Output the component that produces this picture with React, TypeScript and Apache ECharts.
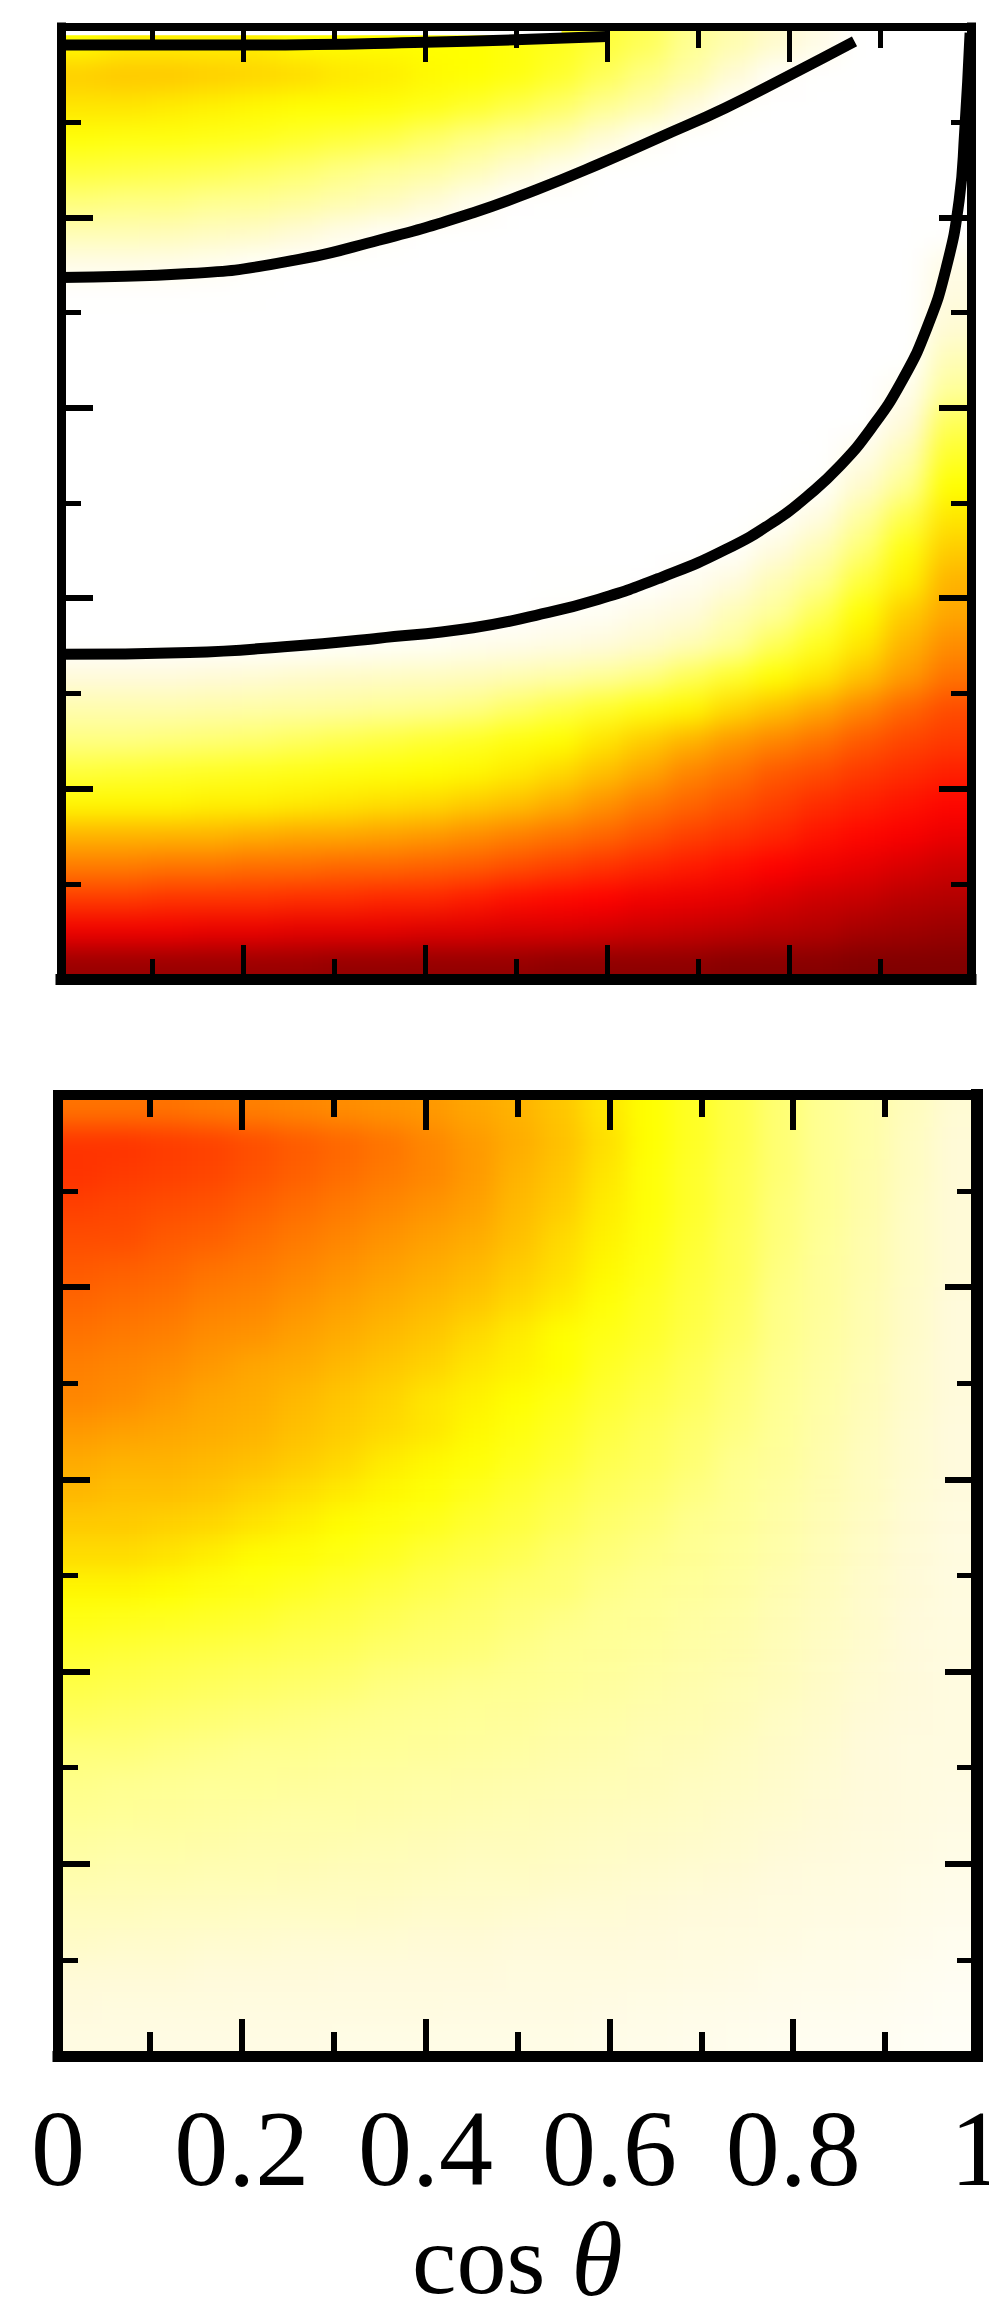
import React, { useEffect, useRef } from "react";
import * as echarts from "echarts";

const xTickLabels = ["0", "0.2", "0.4", "0.6", "0.8", "1"];

const topMaskAboveLine = [[0, 9.95], [0.2, 9.95], [0.4, 9.95], [0.55, 9.96]];
const contourShort = [[0, 9.81], [0.2, 9.81], [0.4, 9.84], [0.6, 9.9]];
const contourUpper = [
  [0, 7.37], [0.141, 7.41], [0.245, 7.53], [0.349, 7.76], [0.453, 8.05], [0.522, 8.29],
  [0.591, 8.56], [0.66, 8.85], [0.73, 9.15], [0.8, 9.49], [0.872, 9.85],
];
const contourLower = [
  [0, 3.41], [0.141, 3.43], [0.245, 3.49], [0.349, 3.58], [0.453, 3.69], [0.522, 3.82],
  [0.591, 3.99], [0.66, 4.22], [0.73, 4.51], [0.786, 4.82], [0.82, 5.07], [0.855, 5.38],
  [0.89, 5.78], [0.924, 6.28], [0.952, 6.85], [0.973, 7.48], [0.987, 8.18], [0.993, 8.89], [0.999, 9.94],
];

// Colour levels, rows from top to bottom, columns from cos θ = 0 to 1.
const topPanel = [
  [3,3.1,3.1,3.1,3.1,3,3,3,3,3,2.9,2.8,2.6,2.4,2,1.6,1.2,0.7,0,0,0],
  [3.4,3.45,3.45,3.4,3.35,3.3,3.2,3.15,3.05,3,2.9,2.7,2.4,2.1,1.7,1.1,0.2,0,0,0,0],
  [3.2,3.2,3.15,3.1,3.05,3,3,2.95,2.85,2.7,2.5,2.3,2,1.6,1,0.1,0,0,0,0,0],
  [2.95,2.9,2.9,2.85,2.8,2.7,2.6,2.5,2.3,2.1,1.9,1.6,1.1,0.3,0,0,0,0,0,0,0],
  [2.6,2.55,2.5,2.45,2.35,2.25,2.1,1.95,1.8,1.5,1.1,0.5,0,0,0,0,0,0,0,0,0],
  [2.15,2.1,2.1,2,1.95,1.8,1.6,1.4,1.1,0.5,0,0,0,0,0,0,0,0,0,0,0],
  [1.5,1.5,1.45,1.35,1.25,1.05,0.6,0.2,0,0,0,0,0,0,0,0,0,0,0,0,0],
  [0.6,0.6,0.55,0.4,0.1,0,0,0,0,0,0,0,0,0,0,0,0,0,0,0,0.7],
  [0,0,0,0,0,0,0,0,0,0,0,0,0,0,0,0,0,0,0,0,0.9],
  [0,0,0,0,0,0,0,0,0,0,0,0,0,0,0,0,0,0,0,0,1.1],
  [0,0,0,0,0,0,0,0,0,0,0,0,0,0,0,0,0,0,0,0,1.5],
  [0,0,0,0,0,0,0,0,0,0,0,0,0,0,0,0,0,0,0,0.5,1.9],
  [0,0,0,0,0,0,0,0,0,0,0,0,0,0,0,0,0,0,0,1,2.4],
  [0,0,0,0,0,0,0,0,0,0,0,0,0,0,0,0,0,0,0.6,1.5,2.7],
  [0,0,0,0,0,0,0,0,0,0,0,0,0,0,0,0,0,0.1,1.2,2,3],
  [0,0,0,0,0,0,0,0,0,0,0,0,0,0,0,0,0.1,0.9,1.8,2.5,3.2],
  [0,0,0,0,0,0,0,0,0,0,0,0,0,0,0,0.1,0.9,1.5,2.2,2.9,3.4],
  [0,0,0,0,0,0,0,0,0,0,0,0,0,0,0.4,0.9,1.5,2,2.6,3.1,3.6],
  [0,0,0,0,0,0,0,0,0,0,0,0.2,0.3,0.7,1,1.5,1.9,2.4,3,3.4,3.7],
  [0,0,0,0,0,0,0.1,0.2,0.3,0.5,0.6,0.8,1,1.2,1.5,1.9,2.4,2.8,3.2,3.6,3.9],
  [1,1,1,1.05,1.1,1.2,1.25,1.3,1.35,1.4,1.55,1.7,1.9,2.1,2.4,2.7,3,3.2,3.5,3.8,4.1],
  [1.6,1.6,1.6,1.65,1.7,1.75,1.8,1.9,2,2.1,2.3,2.5,2.7,2.9,3.05,3.3,3.5,3.7,3.95,4.2,4.4],
  [2.1,2.1,2.15,2.2,2.25,2.35,2.45,2.55,2.65,2.75,2.9,3,3.2,3.4,3.6,3.8,3.95,4.1,4.3,4.45,4.55],
  [2.6,2.65,2.7,2.75,2.8,2.85,2.9,2.95,3,3.05,3.15,3.3,3.5,3.7,3.95,4.1,4.3,4.4,4.55,4.65,4.75],
  [3.05,3.05,3.05,3.1,3.1,3.15,3.2,3.25,3.3,3.4,3.5,3.65,3.85,4.05,4.2,4.35,4.5,4.65,4.75,4.85,4.95],
  [3.6,3.6,3.6,3.6,3.65,3.7,3.7,3.75,3.8,3.9,4,4.1,4.2,4.35,4.5,4.6,4.7,4.85,4.95,5.05,5.15],
  [4.05,4.05,4.1,4.1,4.15,4.15,4.2,4.2,4.25,4.3,4.4,4.5,4.6,4.7,4.8,4.9,5,5.1,5.2,5.3,5.4],
  [4.55,4.55,4.6,4.6,4.6,4.65,4.65,4.7,4.7,4.8,4.9,4.95,5,5.1,5.15,5.2,5.3,5.4,5.45,5.55,5.6],
  [5.1,5.1,5.1,5.15,5.15,5.2,5.2,5.2,5.25,5.25,5.3,5.3,5.35,5.4,5.45,5.5,5.55,5.6,5.7,5.75,5.8],
  [5.8,5.8,5.8,5.8,5.8,5.8,5.85,5.85,5.85,5.85,5.85,5.9,5.9,5.9,5.9,5.95,5.95,5.95,6,6,6],
];

const bottomPanel = [
  [4.1,4.1,4.1,4.05,4,3.95,3.9,3.85,3.8,3.7,3.6,3.45,3.2,3,2.75,2.5,2.2,1.95,1.7,1.4,1.1],
  [4.6,4.6,4.55,4.5,4.4,4.3,4.2,4.1,3.95,3.8,3.65,3.5,3.25,3,2.75,2.5,2.2,1.95,1.7,1.35,1.05],
  [4.6,4.55,4.5,4.45,4.35,4.25,4.15,4.05,3.95,3.8,3.6,3.45,3.2,2.95,2.7,2.45,2.2,1.95,1.65,1.35,1.05],
  [4.5,4.45,4.4,4.35,4.25,4.15,4.05,3.95,3.85,3.75,3.55,3.4,3.15,2.95,2.7,2.45,2.15,1.95,1.65,1.3,1.05],
  [4.4,4.4,4.3,4.25,4.15,4.05,3.95,3.85,3.75,3.65,3.5,3.3,3.1,2.9,2.65,2.4,2.15,1.9,1.6,1.3,1.05],
  [4.3,4.25,4.2,4.1,4.05,3.95,3.85,3.75,3.65,3.55,3.4,3.25,3.05,2.85,2.6,2.4,2.1,1.85,1.6,1.3,1.05],
  [4.2,4.15,4.1,4,3.95,3.85,3.75,3.65,3.55,3.45,3.3,3.15,2.95,2.75,2.55,2.35,2.05,1.85,1.55,1.25,1],
  [4.1,4.05,4,3.9,3.85,3.75,3.65,3.55,3.45,3.3,3.15,3,2.85,2.7,2.5,2.3,2.05,1.8,1.55,1.25,1],
  [4,3.95,3.9,3.8,3.7,3.65,3.55,3.45,3.35,3.2,3.1,3,2.75,2.6,2.4,2.2,2,1.75,1.5,1.2,1],
  [3.95,3.9,3.8,3.7,3.65,3.55,3.45,3.35,3.2,3.1,3,2.85,2.65,2.5,2.35,2.15,1.95,1.7,1.45,1.2,1],
  [3.8,3.75,3.7,3.65,3.6,3.5,3.4,3.3,3.2,3.05,2.9,2.75,2.55,2.4,2.25,2.1,1.9,1.65,1.4,1.15,0.95],
  [3.65,3.6,3.6,3.55,3.5,3.4,3.3,3.15,3.05,2.95,2.8,2.65,2.45,2.35,2.2,2,1.85,1.6,1.35,1.15,0.95],
  [3.55,3.5,3.5,3.45,3.35,3.25,3.15,3.05,2.95,2.8,2.65,2.5,2.35,2.25,2.1,1.95,1.75,1.55,1.35,1.1,0.95],
  [3.4,3.4,3.35,3.3,3.2,3.1,3,2.9,2.8,2.65,2.55,2.4,2.25,2.15,2,1.9,1.7,1.5,1.3,1.1,0.9],
  [3.25,3.25,3.2,3.1,3,2.95,2.85,2.75,2.6,2.5,2.4,2.25,2.15,2.05,1.95,1.8,1.65,1.45,1.25,1.05,0.9],
  [3.05,3.05,3,2.9,2.85,2.75,2.65,2.55,2.45,2.35,2.25,2.2,2.05,1.95,1.85,1.75,1.55,1.4,1.2,1.05,0.9],
  [2.85,2.8,2.75,2.7,2.65,2.55,2.5,2.4,2.3,2.25,2.15,2.05,1.95,1.9,1.75,1.65,1.5,1.35,1.2,1,0.9],
  [2.65,2.6,2.55,2.5,2.45,2.4,2.35,2.25,2.2,2.15,2.05,1.95,1.9,1.8,1.7,1.6,1.45,1.3,1.15,1,0.85],
  [2.5,2.45,2.4,2.35,2.3,2.25,2.2,2.1,2.05,2,1.95,1.9,1.8,1.7,1.6,1.5,1.4,1.25,1.1,1,0.85],
  [2.35,2.3,2.25,2.2,2.15,2.1,2.05,2,1.95,1.9,1.85,1.75,1.7,1.6,1.55,1.45,1.3,1.2,1.05,0.95,0.85],
  [2.15,2.15,2.1,2.05,2,2,1.95,1.9,1.85,1.8,1.75,1.65,1.6,1.5,1.45,1.35,1.25,1.15,1,0.9,0.85],
  [2.05,2,1.95,1.9,1.9,1.85,1.8,1.75,1.7,1.65,1.6,1.55,1.5,1.45,1.35,1.3,1.2,1.1,1,0.9,0.8],
  [1.95,1.9,1.85,1.8,1.75,1.7,1.7,1.65,1.6,1.55,1.5,1.45,1.4,1.35,1.3,1.2,1.15,1.05,0.95,0.85,0.75],
  [1.75,1.7,1.7,1.65,1.6,1.6,1.55,1.5,1.45,1.4,1.4,1.35,1.3,1.25,1.2,1.15,1.05,1,0.9,0.8,0.7],
  [1.6,1.55,1.55,1.5,1.5,1.45,1.4,1.4,1.35,1.3,1.3,1.25,1.2,1.15,1.1,1.05,0.95,0.9,0.8,0.7,0.6],
  [1.4,1.4,1.35,1.35,1.3,1.3,1.3,1.25,1.2,1.2,1.15,1.1,1.1,1.05,1,0.95,0.9,0.8,0.75,0.65,0.55],
  [1.25,1.2,1.2,1.15,1.15,1.1,1.1,1.1,1.05,1.05,1,1,1,0.95,0.9,0.85,0.8,0.7,0.65,0.55,0.45],
  [1.05,1.05,1.05,1,1,1,0.95,0.95,0.95,0.95,0.9,0.9,0.9,0.85,0.8,0.75,0.65,0.6,0.55,0.45,0.35],
  [0.95,0.9,0.9,0.9,0.85,0.85,0.85,0.85,0.85,0.8,0.8,0.8,0.75,0.7,0.65,0.6,0.55,0.5,0.45,0.35,0.3],
  [0.8,0.8,0.75,0.75,0.75,0.75,0.7,0.7,0.7,0.7,0.7,0.7,0.65,0.6,0.55,0.5,0.45,0.4,0.35,0.3,0.25],
];

// One extra ring of cells (copies of the edge cells) so the blur does not fade at the frame.
const padded = (m: number[][]) => {
  const rows = m.map((r) => [r[0], ...r, r[r.length - 1]]);
  return [rows[0], ...rows, rows[rows.length - 1]];
};
const toCells = (m: number[][]) =>
  m.flatMap((row, r) => row.map((v, c) => [c, r, v]));
const indices = (n: number) => Array.from({ length: n }, (_, i) => String(i));

const FONT = "Liberation Serif";
const PANEL_1 = { left: 61, top: 27, width: 910, height: 952 };
const PANEL_2 = { left: 58, top: 1095, width: 919, height: 961 };
const BLEED = 60;

function xVal(gridIndex: number, position: string, width: number, tick: number[], labels: boolean, name?: boolean): any {
  return {
    type: "value", gridIndex, position, min: 0, max: 1, interval: 0.2, z: 10,
    axisLine: { show: true, onZero: false, lineStyle: { color: "#000", width, cap: "square" } },
    axisTick: { show: true, inside: true, length: tick[0], lineStyle: { color: "#000", width: tick[2] } },
    minorTick: { show: true, splitNumber: 2, length: tick[1], lineStyle: { color: "#000", width: tick[2] } },
    splitLine: { show: false },
    axisLabel: {
      show: labels, margin: 38, fontFamily: FONT, fontSize: 108, color: "#000",
      formatter: (v: number) => xTickLabels[Math.round(v * 5)],
    },
    ...(name
      ? {
          name: "{a|cos}{b|θ}",
          nameLocation: "middle",
          nameGap: 173,
          nameTextStyle: {
            rich: {
              a: { fontFamily: FONT, fontSize: 100, lineHeight: 60, color: "#000" },
              b: { fontFamily: FONT, fontSize: 105, lineHeight: 60, fontStyle: "italic", color: "#000", padding: [0, 0, 0, 26] },
            },
          },
        }
      : {}),
  };
}

function yVal(gridIndex: number, position: string, width: number): any {
  return {
    type: "value", gridIndex, position, min: 0, max: 10, interval: 2, z: 10,
    axisLine: { show: true, onZero: false, lineStyle: { color: "#000", width, cap: "square" } },
    axisTick: { show: true, inside: true, length: 32, lineStyle: { color: "#000", width: 6 } },
    minorTick: { show: true, splitNumber: 2, length: 20, lineStyle: { color: "#000", width: 5 } },
    splitLine: { show: false },
    axisLabel: { show: false },
  };
}

const contour = (name: string, data: number[][], width: number, color = "#000") => ({
  type: "line", name, data, xAxisIndex: 0, yAxisIndex: 0, z: 5, smooth: 0.5, symbol: "none",
  clip: true, lineStyle: { color, width, cap: "butt" },
});

function heatGrid(p: typeof PANEL_1, m: number[][]) {
  const w = p.width / m[0].length;
  const h = p.height / m.length;
  return {
    left: p.left - w + BLEED, top: p.top - h + BLEED, width: p.width + 2 * w, height: p.height + 2 * h,
    outerBoundsMode: "none",
  };
}

const rectPath = (p: typeof PANEL_1) =>
  `M${p.left + BLEED} ${p.top + BLEED}H${p.left + p.width + BLEED}V${p.top + p.height + BLEED}H${p.left + BLEED}Z`;

export default function App() {
  const heatRef = useRef<HTMLDivElement>(null);
  const ref = useRef<HTMLDivElement>(null);
  useEffect(() => {
    document.body.style.margin = "0";
    const heat = echarts.init(heatRef.current!, undefined, { renderer: "svg" });
    const chart = echarts.init(ref.current!, undefined, { renderer: "svg" });
    const top = padded(topPanel);
    const bottom = padded(bottomPanel);
    heat.setOption({
      animation: false,
      grid: [heatGrid(PANEL_1, topPanel), heatGrid(PANEL_2, bottomPanel)],
      xAxis: [
        { type: "category", gridIndex: 0, data: indices(top[0].length), show: false },
        { type: "category", gridIndex: 1, data: indices(bottom[0].length), show: false },
      ],
      yAxis: [
        { type: "category", gridIndex: 0, data: indices(top.length), inverse: true, show: false },
        { type: "category", gridIndex: 1, data: indices(bottom.length), inverse: true, show: false },
      ],
      visualMap: {
        show: false, type: "continuous", min: 0, max: 6, seriesIndex: [0, 1],
        inRange: { color: ["#ffffff", "#fffadb", "#ffff90", "#ffff00", "#ff8000", "#ff0000", "#800000"] },
      },
      series: [
        { type: "heatmap", data: toCells(top), xAxisIndex: 0, yAxisIndex: 0, progressive: 0 },
        { type: "heatmap", data: toCells(bottom), xAxisIndex: 1, yAxisIndex: 1, progressive: 0 },
      ],
    });
    const g = (p: typeof PANEL_1) => ({ ...p, outerBoundsMode: "none" });
    chart.setOption({
      animation: false,
      backgroundColor: "transparent",
      grid: [g(PANEL_1), g(PANEL_2)],
      xAxis: [
        xVal(0, "bottom", 11, [34, 20, 5], false),
        xVal(0, "top", 8, [35, 21, 5], false),
        xVal(1, "bottom", 11, [37, 24, 6], true, true),
        xVal(1, "top", 10, [35, 22, 6], false),
      ],
      yAxis: [yVal(0, "left", 9), yVal(0, "right", 9), yVal(1, "left", 10), yVal(1, "right", 12)],
      series: [
        contour("above-contour", topMaskAboveLine, 7, "#fff"),
        contour("contour-short", contourShort, 11),
        contour("contour-upper", contourUpper, 11),
        contour("contour-lower", contourLower, 11),
      ],
    });
    return () => {
      heat.dispose();
      chart.dispose();
    };
  }, []);
  const clip = `path('${rectPath(PANEL_1)}${rectPath(PANEL_2)}')`;
  return (
    <div style={{ position: "relative", width: 989, height: 2313, overflow: "hidden", background: "#fff" }}>
      <div
        ref={heatRef}
        style={{
          position: "absolute", left: -BLEED, top: -BLEED,
          width: 989 + 2 * BLEED, height: 2313 + 2 * BLEED,
          filter: "blur(13px)", clipPath: clip,
        }}
      />
      <div ref={ref} style={{ position: "absolute", left: 0, top: 0, width: 989, height: 2313 }} />
    </div>
  );
}
